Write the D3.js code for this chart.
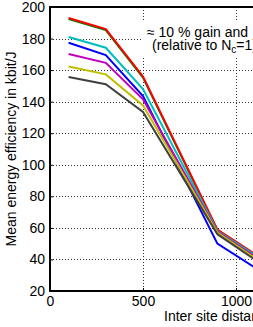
<!DOCTYPE html>
<html>
<head>
<meta charset="utf-8">
<script src="https://cdn.jsdelivr.net/npm/d3@7"></script>
<style>
  html, body { margin: 0; padding: 0; background: #fff; overflow: hidden; }
  svg { display: block; font-family: "Liberation Sans", Arial, sans-serif; }
</style>
</head>
<body>
<svg id="chart" width="253" height="327"></svg>
<script>
// inter site distance in m
const distances = [100, 300, 500, 900, 1100];

// mean energy efficiency in kbit/J, one array per curve (MATLAB colour order)
const seriesBlue    = [177.3, 169.5, 143.5, 50, 35];
const seriesGreen   = [192.4, 185.4, 155.2, 58.4, 43];
const seriesRed     = [193, 186, 156, 59, 43.6];
const seriesCyan    = [181, 174.2, 148, 58, 43];
const seriesMagenta = [170.2, 164.6, 141.5, 57.5, 42];
const seriesYellow  = [162.3, 157.3, 137.6, 57, 41];
const seriesBlack   = [155.6, 151, 133.5, 56, 40];

const xTicks = [0, 500, 1000, 1500];
const yTicks = [20, 40, 60, 80, 100, 120, 140, 160, 180, 200];

const series = [
  { color: '#0000ff', values: seriesBlue },
  { color: '#008000', values: seriesGreen },
  { color: '#ff0000', values: seriesRed },
  { color: '#00bfbf', values: seriesCyan },
  { color: '#bf00bf', values: seriesMagenta },
  { color: '#bfbf00', values: seriesYellow },
  { color: '#404040', values: seriesBlack }
];

const margin = { left: 50, top: 7 };
const plotW = 279, plotH = 284;
const fontSize = 14;

const svg = d3.select('#chart');

const x = d3.scaleLinear().domain([0, 1500]).range([margin.left, margin.left + plotW]);
const y = d3.scaleLinear().domain([20, 200]).range([margin.top + plotH, margin.top]);

// Grid lines (dotted)
const grid = svg.append('g').attr('class', 'grid')
  .attr('stroke', '#333')
  .attr('stroke-width', 1)
  .attr('stroke-dasharray', '1,2');

grid.selectAll('line.gy')
  .data(yTicks.filter(d => d > 20 && d < 200))
  .join('line')
  .attr('x1', margin.left).attr('x2', margin.left + plotW)
  .attr('y1', d => Math.round(y(d)) + 0.5).attr('y2', d => Math.round(y(d)) + 0.5);

grid.selectAll('line.gx')
  .data(xTicks.filter(d => d > 0))
  .join('line')
  .attr('y1', margin.top).attr('y2', margin.top + plotH)
  .attr('x1', d => Math.round(x(d)) + 0.5).attr('x2', d => Math.round(x(d)) + 0.5);

// Annotation box (white background hides the grid)
svg.append('rect')
  .attr('x', 142).attr('y', 21)
  .attr('width', 130).attr('height', 35)
  .attr('fill', '#fff');

const note = svg.append('text')
  .attr('font-size', fontSize)
  .attr('fill', '#000');
note.append('tspan').attr('x', 147).attr('y', 37).text('\u2248 10 % gain and');
note.append('tspan').attr('x', 152).attr('y', 50).text('(relative to N');
note.append('tspan').attr('font-size', 10).attr('dy', 3).text('c');
note.append('tspan').attr('dy', -3).text('=1)');

// Curves
const line = d3.line()
  .x((d, i) => x(distances[i]))
  .y(d => y(d));

svg.append('g').attr('class', 'curves')
  .selectAll('path')
  .data(series)
  .join('path')
  .attr('d', d => line(d.values))
  .attr('fill', 'none')
  .attr('stroke', d => d.color)
  .attr('stroke-width', 2)
  .attr('stroke-linejoin', 'miter');

// Axes frame
const axisG = svg.append('g').attr('stroke', '#000').attr('stroke-width', 2);
axisG.append('line')
  .attr('x1', margin.left).attr('x2', margin.left)
  .attr('y1', margin.top - 1).attr('y2', margin.top + plotH + 1);
axisG.append('line')
  .attr('x1', margin.left - 1).attr('x2', margin.left + plotW)
  .attr('y1', margin.top + plotH).attr('y2', margin.top + plotH);
axisG.append('line')
  .attr('x1', margin.left - 1).attr('x2', margin.left + plotW)
  .attr('y1', margin.top).attr('y2', margin.top);

// Y ticks and labels
const yAxis = d3.axisLeft(y).tickValues(yTicks).tickSize(-3).tickPadding(5)
  .tickFormat(d3.format('d'));
const gy = svg.append('g')
  .attr('transform', `translate(${margin.left},0)`)
  .call(yAxis);
gy.select('.domain').remove();
gy.selectAll('.tick line').attr('stroke', '#000').attr('stroke-width', 1);
gy.selectAll('.tick text')
  .attr('font-size', fontSize)
  .attr('font-family', '"Liberation Sans", Arial, sans-serif')
  .attr('fill', '#000');

// X ticks and labels (no thousands separator, as in the original)
const xAxis = d3.axisBottom(x).tickValues(xTicks).tickSize(-3).tickPadding(5)
  .tickFormat(d3.format('d'));
const gx = svg.append('g')
  .attr('transform', `translate(0,${margin.top + plotH})`)
  .call(xAxis);
gx.select('.domain').remove();
gx.selectAll('.tick line').attr('stroke', '#000').attr('stroke-width', 1);
gx.selectAll('.tick text')
  .attr('font-size', fontSize)
  .attr('font-family', '"Liberation Sans", Arial, sans-serif')
  .attr('fill', '#000');

// Axis titles
svg.append('text')
  .attr('x', 164).attr('y', 321)
  .attr('font-size', fontSize)
  .attr('fill', '#000')
  .text('Inter site distance in m');

svg.append('text')
  .attr('transform', `translate(16,${margin.top + plotH / 2}) rotate(-90)`)
  .attr('text-anchor', 'middle')
  .attr('font-size', fontSize)
  .attr('fill', '#000')
  .text('Mean energy efficiency in kbit/J');
</script>
</body>
</html>
